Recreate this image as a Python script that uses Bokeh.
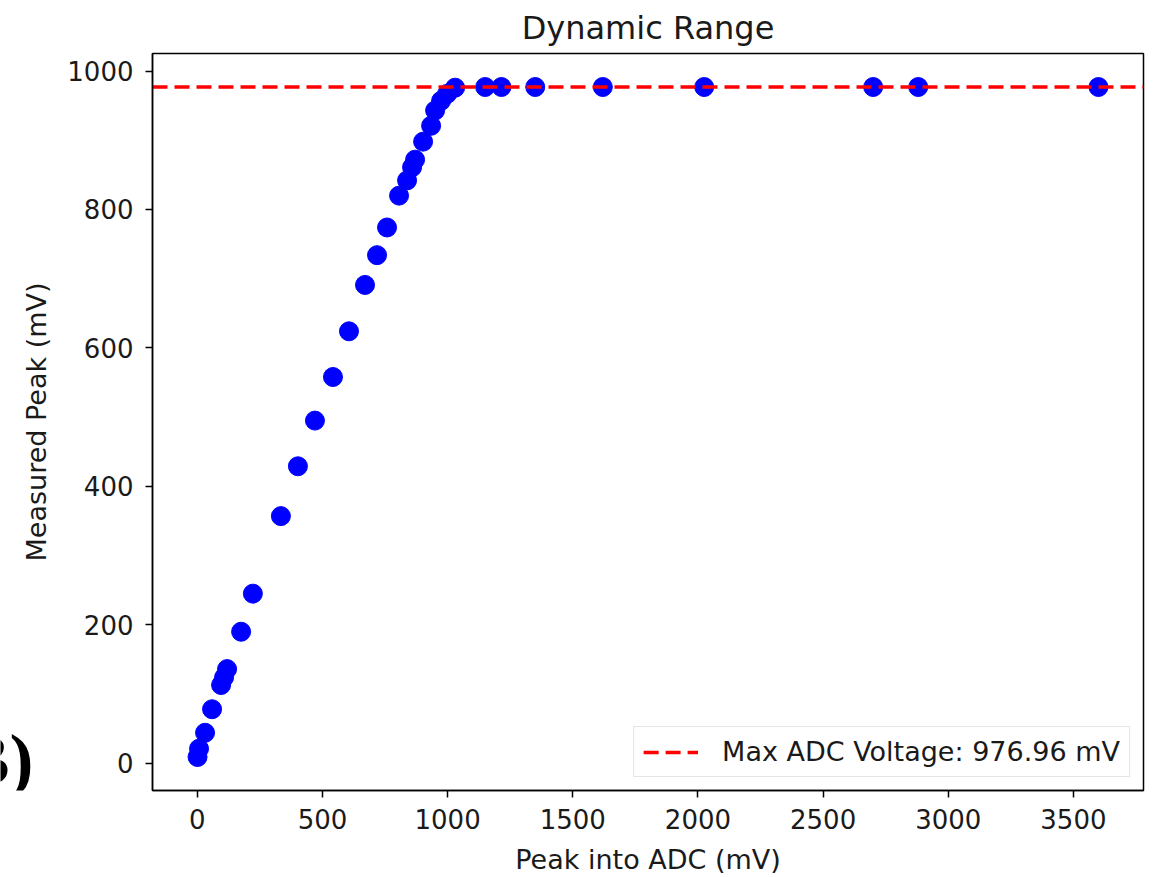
import math
from bokeh.plotting import figure
from bokeh.models import Range1d, Legend, LegendItem, ColumnDataSource
from bokeh.layouts import row
from bokeh.core.properties import value
from bokeh.embed import file_html
from bokeh.resources import INLINE

# ---- data ----
peak_into_adc = [1, 7, 31, 59, 95, 107, 119, 175, 222, 334, 402, 470, 542, 606,
                 670, 718, 758, 806, 838, 858, 870, 902, 934, 950, 974, 998, 1030,
                 1150, 1215, 1350, 1620, 2025, 2700, 2880, 3600]
measured_peak = [9, 21, 44, 78, 113, 124, 136, 190, 245, 357, 429, 495, 558, 624,
                 691, 734, 774, 820, 842, 861, 872, 898, 921, 943, 957, 967, 976,
                 976.96, 976.96, 976.96, 976.96, 976.96, 976.96, 976.96, 976.96]
max_adc_voltage = 976.96
x_ticks = [0, 500, 1000, 1500, 2000, 2500, 3000, 3500]
y_ticks = [0, 200, 400, 600, 800, 1000]
title_text = "Dynamic Range"
x_label = "Peak into ADC (mV)"
y_label = ["Measured Peak (mV)"]
legend_text = "Max ADC Voltage: 976.96 mV"
panel_tag = ["B)"]

FONT = "DejaVu Sans"

# matplotlib-like 5% margins
xmin, xmax = min(peak_into_adc), max(peak_into_adc)
ymin, ymax = min(measured_peak), max(max(measured_peak), max_adc_voltage)
xm = 0.05 * (xmax - xmin)
ym = 0.05 * (ymax - ymin)
x0, x1 = xmin - xm, xmax + xm

W, H = 1153, 877
TAG_W = 60          # left strip holding the panel tag and the y-axis title
FRAME_L, FRAME_T, FRAME_B, FRAME_R = 152, 51, 86, 10

p = figure(width=W - TAG_W, height=H, output_backend="svg", toolbar_location=None,
           x_range=Range1d(x0, x1), y_range=Range1d(ymin - ym, ymax + ym),
           min_border_left=FRAME_L - TAG_W, min_border_right=FRAME_R,
           min_border_top=FRAME_T, min_border_bottom=FRAME_B)

p.background_fill_color = "white"
p.border_fill_color = "white"
p.outline_line_color = "black"
p.outline_line_width = 1.5
p.xgrid.visible = False
p.ygrid.visible = False

p.title.text = title_text
p.title.align = "center"
p.title.text_font = FONT
p.title.text_font_size = "32px"
p.title.text_font_style = "normal"
p.title.text_color = "#1a1a1a"
p.title.standoff = 13

for ax in (p.xaxis[0], p.yaxis[0]):
    ax.axis_line_color = "black"
    ax.axis_line_width = 1.5
    ax.major_tick_line_color = "black"
    ax.major_tick_line_width = 1.5
    ax.major_tick_out = 7
    ax.major_tick_in = 0
    ax.minor_tick_out = 0
    ax.minor_tick_in = 0
    ax.major_label_text_font = FONT
    ax.major_label_text_font_size = "26px"
    ax.major_label_text_color = "#1a1a1a"
    ax.axis_label_text_font = FONT
    ax.axis_label_text_font_size = "27px"
    ax.axis_label_text_font_style = "normal"
    ax.axis_label_text_color = "#1a1a1a"

p.xaxis.ticker = x_ticks
p.yaxis.ticker = y_ticks
p.xaxis.axis_label = x_label
p.xaxis.major_label_standoff = 11
p.xaxis.axis_label_standoff = 12
p.yaxis.major_label_standoff = 12

src = ColumnDataSource(dict(x=peak_into_adc, y=measured_peak))
p.scatter("x", "y", source=src, size=19, fill_color="blue", line_color="blue")

hline = p.line(x=[x0, x1], y=[max_adc_voltage, max_adc_voltage], line_color="red",
               line_width=3.5, line_dash="15 7")

legend = Legend(items=[LegendItem(label=legend_text, renderers=[hline])],
                location="bottom_right")
legend.label_text_font = FONT
legend.label_text_font_size = "27px"
legend.label_text_color = "#1a1a1a"
legend.glyph_width = 55
legend.glyph_height = 30
legend.label_height = 30
legend.label_standoff = 24
legend.padding = 9
legend.margin = 13
legend.border_line_color = "#cccccc"
legend.border_line_width = 1.5
legend.background_fill_alpha = 0.8
p.add_layout(legend)

# left strip: panel tag (partially cut off by the page edge) and the y-axis title.
# Its frame is aligned with the main frame by the row layout, so its y range is
# expressed in page pixels measured from the top.
tag = figure(width=TAG_W, height=H, output_backend="svg", toolbar_location=None,
             title=None, x_axis_location=None, y_axis_location=None,
             x_range=Range1d(0, TAG_W), y_range=Range1d(H - FRAME_B, FRAME_T),
             min_border=0)
tag.grid.visible = False
tag.outline_line_color = None
tag.border_fill_color = "white"
tag.background_fill_color = "white"
tag.text(x=[-39], y=[760], text=panel_tag, text_font=value("Liberation Serif"),
         text_font_style="bold", text_font_size="72px", text_color="black",
         text_baseline="alphabetic", text_align="left")
frame_mid = (FRAME_T + (H - FRAME_B)) / 2
tag.text(x=[36], y=[frame_mid], text=y_label, angle=math.pi / 2,
         text_font=value(FONT), text_font_size="27px", text_color="#1a1a1a",
         text_baseline="middle", text_align="center")

layout = row(tag, p)
open("out.html", "w").write(file_html(layout, INLINE))
